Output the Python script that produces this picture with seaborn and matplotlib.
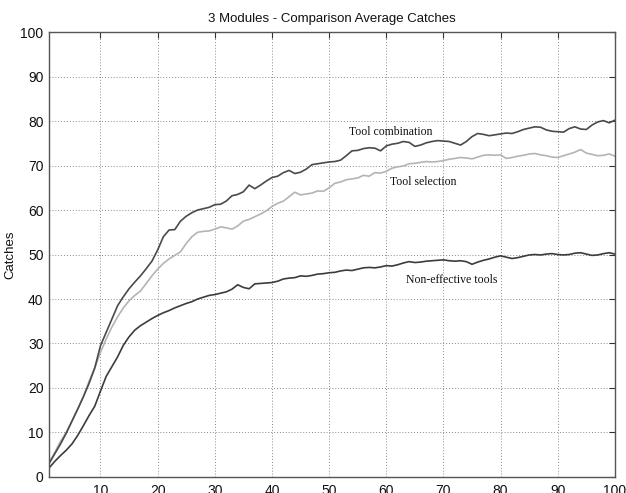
import numpy as np
import pandas as pd
import matplotlib
matplotlib.use("Agg")
import matplotlib.pyplot as plt
import seaborn as sns

trials = list(range(1, 101))

tool_combination = [
    3.0, 5.2, 7.4, 9.8, 12.5, 15.2, 18.0, 21.0, 24.5, 29.5,
    32.5, 35.5, 38.5, 40.5, 42.3, 43.8, 45.2, 46.8, 48.5, 51.0,
    54.0, 55.5, 55.6, 57.5, 58.6, 59.4, 60.0, 60.3, 60.6, 61.2,
    61.3, 62.0, 63.2, 63.5, 64.1, 65.6, 64.8, 65.6, 66.5, 67.3,
    67.6, 68.4, 68.9, 68.2, 68.5, 69.2, 70.2, 70.4, 70.6, 70.8,
    70.9, 71.2, 72.2, 73.3, 73.4, 73.8, 74.0, 73.9, 73.3, 74.4,
    74.8, 75.0, 75.4, 75.2, 74.3, 74.6, 75.1, 75.4, 75.6, 75.5,
    75.4, 75.0, 74.6, 75.4, 76.5, 77.2, 77.0, 76.7, 76.9, 77.1,
    77.3, 77.2, 77.6, 78.1, 78.4, 78.7, 78.6, 78.0, 77.7, 77.6,
    77.5, 78.3, 78.7, 78.2, 78.1, 79.1, 79.8, 80.1, 79.6, 80.2,
]

tool_selection = [
    3.2, 5.5, 8.0, 10.0, 12.6, 15.2, 18.0, 21.5, 24.5, 28.0,
    31.0, 33.7, 36.0, 38.0, 39.6, 40.8, 41.8, 43.5, 45.2, 46.7,
    48.0, 49.0, 49.8, 50.6, 52.5, 54.0, 55.0, 55.2, 55.3, 55.7,
    56.2, 56.0, 55.7, 56.4, 57.5, 57.9, 58.5, 59.1, 59.8, 60.8,
    61.5, 62.0, 63.0, 64.0, 63.4, 63.6, 63.8, 64.3, 64.2, 65.0,
    66.0, 66.3, 66.8, 67.0, 67.2, 67.8, 67.6, 68.4, 68.3, 68.7,
    69.4, 69.7, 69.9, 70.4, 70.5, 70.7, 70.9, 70.8, 70.9, 71.1,
    71.4, 71.6, 71.8, 71.7, 71.5, 71.9, 72.3, 72.4, 72.3, 72.4,
    71.6, 71.8, 72.1, 72.3, 72.6, 72.7, 72.4, 72.2, 71.9, 71.8,
    72.2, 72.6, 73.0, 73.6, 72.8, 72.5, 72.2, 72.3, 72.6, 72.1,
]

non_effective = [
    2.0, 3.5, 4.8, 6.0, 7.4, 9.3, 11.5, 13.8, 15.9, 19.3,
    22.6, 24.8, 27.0, 29.6, 31.5, 33.0, 34.0, 34.8, 35.6, 36.3,
    36.9, 37.4, 38.0, 38.5, 39.0, 39.4, 40.0, 40.4, 40.8, 41.0,
    41.3, 41.6, 42.2, 43.2, 42.6, 42.3, 43.4, 43.5, 43.6, 43.7,
    44.0, 44.5, 44.7, 44.8, 45.2, 45.1, 45.3, 45.6, 45.7, 45.9,
    46.0, 46.3, 46.5, 46.4, 46.7, 47.0, 47.1, 47.0, 47.2, 47.5,
    47.4, 47.7, 48.1, 48.4, 48.2, 48.3, 48.5, 48.6, 48.7, 48.8,
    48.6, 48.5, 48.6, 48.4, 47.8, 48.3, 48.7, 49.0, 49.4, 49.7,
    49.4, 49.1, 49.3, 49.6, 49.9, 50.0, 49.9, 50.1, 50.2, 50.0,
    49.9, 50.0, 50.3, 50.4, 50.1, 49.8, 49.9, 50.2, 50.4, 50.1,
]

series_names = ["Tool combination", "Tool selection", "Non-effective tools"]
x_ticks = [10, 20, 30, 40, 50, 60, 70, 80, 90, 100]
y_ticks = [0, 10, 20, 30, 40, 50, 60, 70, 80, 90, 100]

df = pd.DataFrame({
    "Trial": trials * 3,
    "Catches": tool_combination + tool_selection + non_effective,
    "Series": [series_names[0]] * 100 + [series_names[1]] * 100 + [series_names[2]] * 100,
})

sns.set_theme(style="white")
plt.rcParams["font.family"] = ["Liberation Sans", "DejaVu Sans"]

fig = plt.figure(figsize=(6.26, 4.93), dpi=100)
ax = fig.add_axes([0.0783, 0.0325, 0.904, 0.9025])

palette = {series_names[0]: "#4a4a4a", series_names[1]: "#b4b4b4", series_names[2]: "#3c3c3c"}
sns.lineplot(data=df, x="Trial", y="Catches", hue="Series", palette=palette,
             hue_order=[series_names[1], series_names[0], series_names[2]],
             linewidth=1.2, legend=False, ax=ax)

ax.set_xlim(1, 100)
ax.set_ylim(0, 100)
ax.set_xticks(x_ticks)
ax.set_yticks(y_ticks)
ax.grid(True, linestyle=(0, (1, 2)), color="#8a8a8a", linewidth=0.7)
ax.tick_params(direction="in", length=4, width=0.8, color="#333333",
               labelsize=10, top=True, right=True, labelcolor="#111111", pad=4)
ax.tick_params(axis="x", pad=5)
for s in ax.spines.values():
    s.set_color("#555555")
    s.set_linewidth(1.0)
ax.set_xlabel("")
ax.set_ylabel("Catches", fontsize=9.5, labelpad=3, color="#111111")
ax.set_title("3 Modules - Comparison Average Catches", fontsize=9.5, pad=7, color="#111111")

lab_font = dict(family=["Liberation Serif", "DejaVu Serif"], fontsize=8.5, color="#111111")
ax.text(53.4, 77.5, series_names[0], ha="left", va="center", **lab_font)
ax.text(60.7, 66.3, series_names[1], ha="left", va="center", **lab_font)
ax.text(63.5, 44.3, series_names[2], ha="left", va="center", **lab_font)

fig.savefig("out.png", dpi=100)
